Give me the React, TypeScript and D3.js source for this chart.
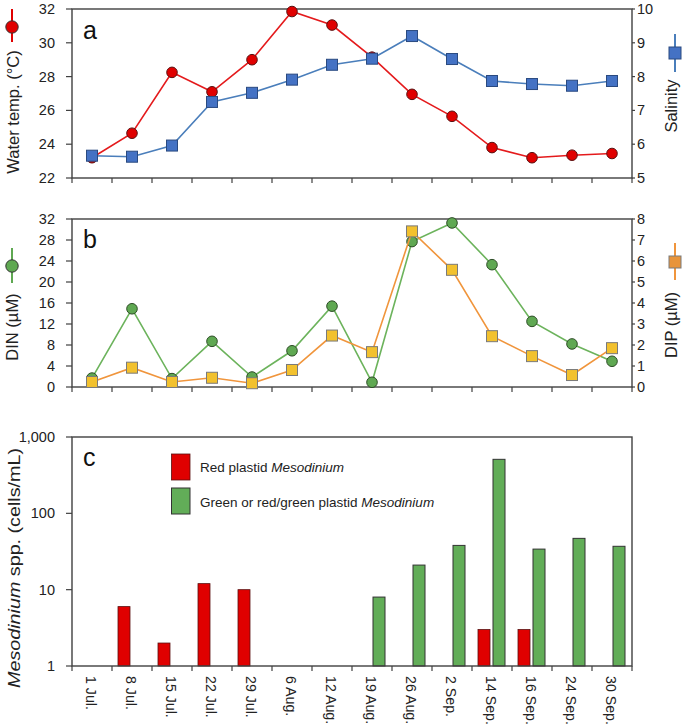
import React from "react";
import * as d3 from "d3";

const categories = ["1 Jul.", "8 Jul.", "15 Jul.", "22 Jul.", "29 Jul.", "6 Aug.", "12 Aug.", "19 Aug.", "26 Aug.", "2 Sep.", "14 Sep.", "16 Sep.", "24 Sep.", "30 Sep."];
const waterTemp = [23.2, 24.65, 28.25, 27.1, 29.0, 31.85, 31.05, 29.15, 26.95, 25.65, 23.8, 23.2, 23.35, 23.45];
const salinity = [5.66, 5.63, 5.96, 7.25, 7.52, 7.91, 8.35, 8.53, 9.2, 8.52, 7.87, 7.78, 7.73, 7.87];
const din = [1.7, 14.9, 1.6, 8.7, 1.9, 6.9, 15.4, 0.9, 27.7, 31.25, 23.3, 12.5, 8.2, 4.9];
const dip = [0.24, 0.92, 0.24, 0.44, 0.18, 0.81, 2.45, 1.66, 7.41, 5.58, 2.42, 1.47, 0.57, 1.85];
const redPlastid: (number | null)[] = [null, 6, 2, 12, 10, null, null, null, null, null, 3, 3, null, null];
const greenPlastid: (number | null)[] = [null, null, null, null, null, null, null, 8, 21, 38, 510, 34, 47, 37];

const tempTicks = [22, 24, 26, 28, 30, 32];
const salTicks = [5, 6, 7, 8, 9, 10];
const dinTicks = [0, 4, 8, 12, 16, 20, 24, 28, 32];
const dipTicks = [0, 1, 2, 3, 4, 5, 6, 7, 8];
const cellTicks = [1, 10, 100, 1000];

const FONT = "'Liberation Sans', Arial, Helvetica, sans-serif";
const AX = "#404040";

const L = 72, R = 632;
const A = { top: 9, bottom: 178 };
const B = { top: 219, bottom: 387 };
const C = { top: 437, bottom: 666 };

const x = d3.scaleBand<string>().domain(categories).range([L, R]).padding(0);
const xc = (i: number) => (x(categories[i]) as number) + x.bandwidth() / 2;
const sub = d3.scaleBand<string>().domain(["red", "green"]).range([6, 33]).paddingInner(0.2).paddingOuter(0);

const yTemp = d3.scaleLinear().domain([22, 32]).range([A.bottom, A.top]);
const ySal = d3.scaleLinear().domain([5, 10]).range([A.bottom, A.top]);
const yDin = d3.scaleLinear().domain([0, 32]).range([B.bottom, B.top]);
const yDip = d3.scaleLinear().domain([0, 8]).range([B.bottom, B.top]);
const yCell = d3.scaleLog().domain([1, 1000]).range([C.bottom, C.top]);

const fmtComma = d3.format(",");

function Frame({ top, bottom }: { top: number; bottom: number }) {
  const bounds = x.domain().map((c) => x(c) as number).concat([R]);
  return (
    <g>
      <rect x={L} y={top} width={R - L} height={bottom - top} fill="none" stroke={AX} strokeWidth={1.4} />
      {bounds.map((b, i) => (
        <line key={i} x1={b} x2={b} y1={bottom} y2={bottom + 5} stroke={AX} strokeWidth={1.2} />
      ))}
    </g>
  );
}

function LeftAxis({ scale, ticks, fmt }: { scale: any; ticks: number[]; fmt?: (v: number) => string }) {
  return (
    <g>
      {ticks.map((t) => (
        <g key={t}>
          <line x1={L - 6} x2={L} y1={scale(t)} y2={scale(t)} stroke={AX} strokeWidth={1.2} />
          <text x={55} y={scale(t)} dy="0.35em" textAnchor="end" fontSize={14.5} fill="#222">
            {fmt ? fmt(t) : String(t)}
          </text>
        </g>
      ))}
    </g>
  );
}

function RightAxis({ scale, ticks }: { scale: any; ticks: number[] }) {
  return (
    <g>
      {ticks.map((t) => (
        <g key={t}>
          <line x1={R} x2={R + 3} y1={scale(t)} y2={scale(t)} stroke={AX} strokeWidth={1.2} />
          <text x={637} y={scale(t)} dy="0.35em" textAnchor="start" fontSize={14.5} fill="#222">
            {String(t)}
          </text>
        </g>
      ))}
    </g>
  );
}

function Series({ values, scale, line, fill, stroke, shape }: { values: number[]; scale: any; line: string; fill: string; stroke: string; shape: "circle" | "square" }) {
  const gen = d3.line<number>().x((_, i) => xc(i)).y((v) => scale(v));
  return (
    <g>
      <path d={gen(values) || ""} fill="none" stroke={line} strokeWidth={1.6} />
      {values.map((v, i) =>
        shape === "circle" ? (
          <circle key={i} cx={xc(i)} cy={scale(v)} r={5.3} fill={fill} stroke={stroke} strokeWidth={1} />
        ) : (
          <rect key={i} x={xc(i) - 5.5} y={scale(v) - 5.5} width={11} height={11} fill={fill} stroke={stroke} strokeWidth={1} />
        )
      )}
    </g>
  );
}

function VTitle({ cx, cy, children, length }: { cx: number; cy: number; children: any; length?: number }) {
  return (
    <text
      transform={`translate(${cx},${cy}) rotate(-90)`}
      textAnchor="middle"
      dy="0.35em"
      fontSize={16.5}
      fill="#222"
      {...(length ? { textLength: length, lengthAdjust: "spacingAndGlyphs" } : {})}
    >
      {children}
    </text>
  );
}

function MarkerCircle({ cx, y1, y2, cy, color, fill }: any) {
  return (
    <g>
      <line x1={cx} x2={cx} y1={y1} y2={y2} stroke={color} strokeWidth={2} />
      <circle cx={cx} cy={cy} r={6.2} fill={fill} stroke="#333" strokeWidth={1} />
    </g>
  );
}

function MarkerSquare({ cx, y1, y2, cy, color, fill, stroke }: any) {
  return (
    <g>
      <line x1={cx} x2={cx} y1={y1} y2={y2} stroke={color} strokeWidth={2} />
      <rect x={cx - 6} y={cy - 6} width={12} height={12} fill={fill} stroke={stroke} strokeWidth={1} />
    </g>
  );
}

export default function App() {
  return (
    <svg width={685} height={724} style={{ position: "absolute", left: 0, top: 0, background: "#fff" }} fontFamily={FONT}>
      <rect x={0} y={0} width={685} height={724} fill="#fff" />

      {/* Panel a */}
      <Frame top={A.top} bottom={A.bottom} />
      <LeftAxis scale={yTemp} ticks={tempTicks} />
      <RightAxis scale={ySal} ticks={salTicks} />
      <Series values={waterTemp} scale={yTemp} line="#e41a1c" fill="#e00000" stroke="#5a1010" shape="circle" />
      <Series values={salinity} scale={ySal} line="#4a7ebb" fill="#4472c4" stroke="#2a4a80" shape="square" />
      <text x={83} y={39} fontSize={25} fill="#111">a</text>
      <MarkerCircle cx={12} y1={9} y2={42} cy={27} color="#e00000" fill="#e00000" />
      <VTitle cx={13} cy={112}>Water temp. (°C)</VTitle>
      <MarkerSquare cx={675} y1={34} y2={72} cy={53} color="#4a7ebb" fill="#4472c4" stroke="#2a4a80" />
      <VTitle cx={671} cy={106}>Salinity</VTitle>

      {/* Panel b */}
      <Frame top={B.top} bottom={B.bottom} />
      <LeftAxis scale={yDin} ticks={dinTicks} />
      <RightAxis scale={yDip} ticks={dipTicks} />
      <Series values={din} scale={yDin} line="#6cb35c" fill="#5fa852" stroke="#2d4d26" shape="circle" />
      <Series values={dip} scale={yDip} line="#f0953c" fill="#f2c12e" stroke="#7a7a7a" shape="square" />
      <text x={83} y={248} fontSize={25} fill="#111">b</text>
      <MarkerCircle cx={12} y1={248} y2={283} cy={266} color="#5fa852" fill="#5fa852" />
      <VTitle cx={12} cy={327}>DIN (µM)</VTitle>
      <MarkerSquare cx={675} y1={243} y2={280} cy={262} color="#f0953c" fill="#e8943a" stroke="#7a7a7a" />
      <VTitle cx={671} cy={325}>DIP (µM)</VTitle>

      {/* Panel c */}
      <g>
        {redPlastid.map((v, i) =>
          v == null ? null : (
            <rect key={"r" + i} x={(x(categories[i]) as number) + (sub("red") as number)} y={yCell(v)} width={sub.bandwidth()} height={yCell(1) - yCell(v)} fill="#e00000" stroke="#5a1010" strokeWidth={0.8} />
          )
        )}
        {greenPlastid.map((v, i) =>
          v == null ? null : (
            <rect key={"g" + i} x={(x(categories[i]) as number) + (sub("green") as number)} y={yCell(v)} width={sub.bandwidth()} height={yCell(1) - yCell(v)} fill="#62ad58" stroke="#333" strokeWidth={1} />
          )
        )}
      </g>
      <Frame top={C.top} bottom={C.bottom} />
      <LeftAxis scale={yCell} ticks={cellTicks} fmt={(v) => fmtComma(v)} />
      <text x={83} y={466} fontSize={25} fill="#111">c</text>
      <VTitle cx={14} cy={568} length={240}>
        <tspan fontStyle="italic">Mesodinium</tspan> spp. (cells/mL)
      </VTitle>

      {/* Legend */}
      <rect x={171.5} y={454} width={18.5} height={26} fill="#e00000" stroke="#5a1010" strokeWidth={0.8} />
      <text x={200} y={472} fontSize={13.5} fill="#222">
        Red plastid <tspan fontStyle="italic">Mesodinium</tspan>
      </text>
      <rect x={171.5} y={488} width={18.5} height={26} fill="#62ad58" stroke="#333" strokeWidth={1} />
      <text x={200} y={507} fontSize={13.5} fill="#222">
        Green or red/green plastid <tspan fontStyle="italic">Mesodinium</tspan>
      </text>

      {/* X labels */}
      {categories.map((c, i) => (
        <text key={c} transform={`translate(${xc(i) - 1},676) rotate(90)`} dy="0.35em" textAnchor="start" fontSize={14.2} fill="#222">
          {c}
        </text>
      ))}
    </svg>
  );
}
